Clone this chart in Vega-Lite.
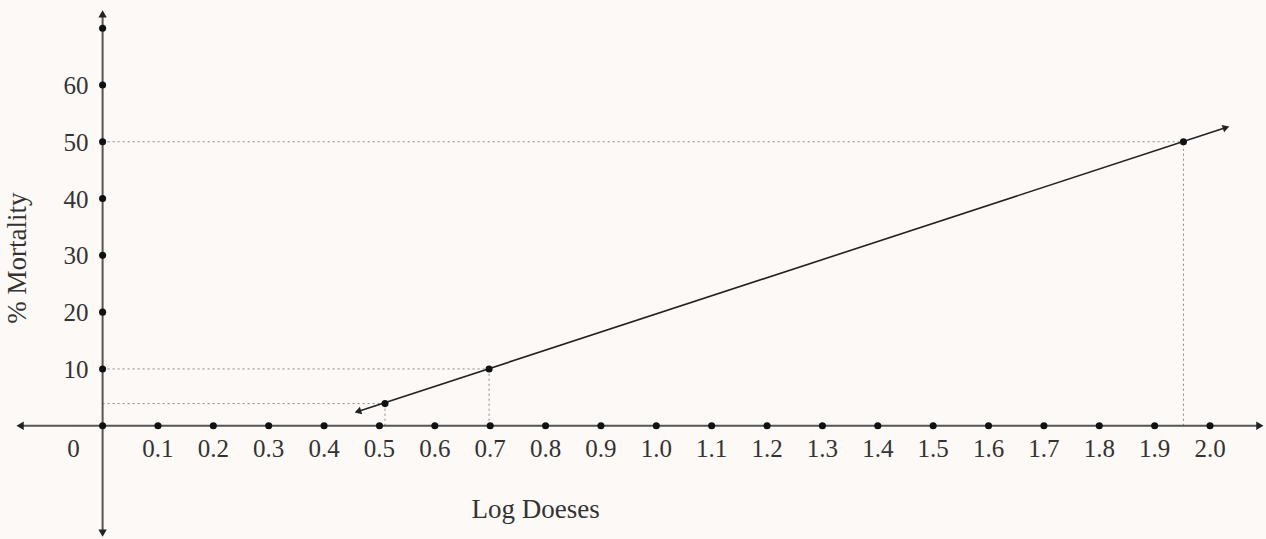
{
  "$schema": "https://vega.github.io/schema/vega-lite/v6.json",
  "width": 1266,
  "height": 539,
  "padding": 0,
  "autosize": {"type": "none"},
  "background": "#fcf9f6",
  "config": {"view": {"stroke": null}, "text": {"font": "Liberation Serif"}},
  "datasets": {
    "xaxis": [{"x": -0.149, "y": 0}, {"x": 2.09, "y": 0}],
    "yaxis": [{"x": 0, "y": -18.9}, {"x": 0, "y": 72.5}],
    "xticks": [
      {"x": 0.0, "y": 0, "label": ""}, {"x": 0.1, "y": 0, "label": "0.1"}, {"x": 0.2, "y": 0, "label": "0.2"}, {"x": 0.3, "y": 0, "label": "0.3"},
      {"x": 0.4, "y": 0, "label": "0.4"}, {"x": 0.5, "y": 0, "label": "0.5"}, {"x": 0.6, "y": 0, "label": "0.6"}, {"x": 0.7, "y": 0, "label": "0.7"},
      {"x": 0.8, "y": 0, "label": "0.8"}, {"x": 0.9, "y": 0, "label": "0.9"}, {"x": 1.0, "y": 0, "label": "1.0"}, {"x": 1.1, "y": 0, "label": "1.1"},
      {"x": 1.2, "y": 0, "label": "1.2"}, {"x": 1.3, "y": 0, "label": "1.3"}, {"x": 1.4, "y": 0, "label": "1.4"}, {"x": 1.5, "y": 0, "label": "1.5"},
      {"x": 1.6, "y": 0, "label": "1.6"}, {"x": 1.7, "y": 0, "label": "1.7"}, {"x": 1.8, "y": 0, "label": "1.8"}, {"x": 1.9, "y": 0, "label": "1.9"},
      {"x": 2.0, "y": 0, "label": "2.0"}
    ],
    "yticks": [
      {"x": 0, "y": 10, "label": "10"}, {"x": 0, "y": 20, "label": "20"}, {"x": 0, "y": 30, "label": "30"}, {"x": 0, "y": 40, "label": "40"},
      {"x": 0, "y": 50, "label": "50"}, {"x": 0, "y": 60, "label": "60"}, {"x": 0, "y": 70, "label": ""}
    ],
    "guides": [
      {"x": 0, "y": 50, "x2": 1.952, "y2": 50},
      {"x": 0, "y": 10, "x2": 0.698, "y2": 10},
      {"x": 0, "y": 3.9, "x2": 0.51, "y2": 3.9},
      {"x": 1.952, "y": 0, "x2": 1.952, "y2": 50},
      {"x": 0.698, "y": 0, "x2": 0.698, "y2": 10},
      {"x": 0.51, "y": 0, "x2": 0.51, "y2": 3.9}
    ],
    "line": [{"x": 0.461, "y": 2.5}, {"x": 2.029, "y": 52.5}],
    "points": [{"x": 0.51, "y": 3.9}, {"x": 0.698, "y": 10}, {"x": 1.952, "y": 50}],
    "titles": [
      {"x": 0.782, "y": -14.8, "text": "Log Doeses", "angle": 0},
      {"x": -0.152, "y": 29.5, "text": "% Mortality", "angle": 270}
    ]
  },
  "encoding": {
    "x": {"field": "x", "type": "quantitative", "scale": {"domain": [-0.1853, 2.1011], "nice": false, "zero": false}, "axis": null},
    "y": {"field": "y", "type": "quantitative", "scale": {"domain": [-19.94, 74.96], "nice": false, "zero": false}, "axis": null}
  },
  "layer": [
    {"data": {"name": "guides"}, "mark": {"type": "rule", "color": "#888", "strokeWidth": 1, "strokeDash": [2, 3]},
     "encoding": {"x2": {"field": "x2"}, "y2": {"field": "y2"}}},
    {"data": {"name": "xaxis"}, "mark": {"type": "line", "color": "#555", "strokeWidth": 2}, "encoding": {}},
    {"data": {"name": "yaxis"}, "mark": {"type": "line", "color": "#555", "strokeWidth": 2}, "encoding": {"order": {"field": "y"}}},
    {"data": {"values": [{"x": -0.149, "y": 0, "s": "triangle-left"}, {"x": 2.09, "y": 0, "s": "triangle-right"}, {"x": 0, "y": 72.5, "s": "triangle-up"}, {"x": 0, "y": -18.9, "s": "triangle-down"}]},
     "mark": {"type": "point", "filled": true, "color": "#222", "size": 70, "opacity": 1},
     "encoding": {"shape": {"field": "s", "type": "nominal", "scale": null, "legend": null}}},
    {"data": {"name": "xticks"}, "mark": {"type": "point", "filled": true, "color": "#111", "size": 50, "opacity": 1}, "encoding": {}},
    {"data": {"name": "yticks"}, "mark": {"type": "point", "filled": true, "color": "#111", "size": 50, "opacity": 1}, "encoding": {}},
    {"data": {"name": "xticks"}, "mark": {"type": "text", "fontSize": 25, "color": "#333", "dy": 23, "baseline": "middle", "align": "center"},
     "encoding": {"text": {"field": "label"}}},
    {"data": {"name": "yticks"}, "mark": {"type": "text", "fontSize": 25, "color": "#333", "dx": -14, "dy": 1, "baseline": "middle", "align": "right"},
     "encoding": {"text": {"field": "label"}}},
    {"data": {"values": [{"x": 0, "y": 0, "label": "0"}]}, "mark": {"type": "text", "fontSize": 25, "color": "#333", "dx": -29, "dy": 23, "baseline": "middle", "align": "center"},
     "encoding": {"text": {"field": "label"}}},
    {"data": {"name": "line"}, "mark": {"type": "line", "color": "#222", "strokeWidth": 1.6}, "encoding": {}},
    {"data": {"values": [{"x": 0.461, "y": 2.5, "s": "triangle-left"}, {"x": 2.029, "y": 52.5, "s": "triangle-right"}]},
     "mark": {"type": "point", "filled": true, "color": "#222", "size": 60, "opacity": 1, "angle": -18},
     "encoding": {"shape": {"field": "s", "type": "nominal", "scale": null, "legend": null}}},
    {"data": {"name": "points"}, "mark": {"type": "point", "filled": true, "color": "#111", "size": 50, "opacity": 1}, "encoding": {}},
    {"data": {"name": "titles"}, "mark": {"type": "text", "fontSize": 27, "color": "#333", "baseline": "middle", "align": "center"},
     "encoding": {"text": {"field": "text"}, "angle": {"field": "angle", "type": "quantitative", "scale": null}}}
  ]
}
